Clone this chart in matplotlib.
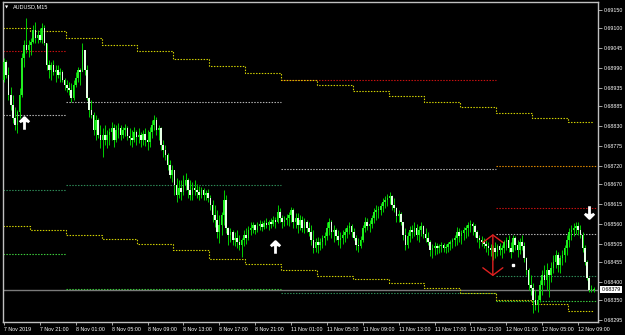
import matplotlib
matplotlib.use("Agg")
import matplotlib.pyplot as plt
import matplotlib.transforms as mtransforms
from matplotlib.path import Path
import numpy as np

plt.rcParams["font.family"] = ["Liberation Sans", "DejaVu Sans"]

# AUDUSD M15 bars, prices in points (1 point = 0.00001)
first_open = 68957
high_pts = [
    69018, 69012, 68993, 68938, 68916, 68883, 68874, 68935, 69032, 69067, 69128, 69067,
    69073, 69108, 69116, 69095, 69100, 69114, 69108, 69059, 69012, 69006, 69012, 68998,
    68998, 68990, 68985, 68962, 68957, 68951, 68949, 68957, 68979, 68993, 68990, 69059,
    69040, 68998, 68911, 68902, 68868, 68860, 68852, 68833, 68825, 68833, 68819, 68825,
    68841, 68836, 68833, 68839, 68833, 68828, 68836, 68830, 68825, 68819, 68828, 68819,
    68825, 68813, 68819, 68825, 68819, 68828, 68847, 68860, 68855, 68833, 68828, 68791,
    68777, 68756, 68736, 68722, 68695, 68687, 68681, 68681, 68695, 68701, 68687, 68681,
    68675, 68681, 68670, 68664, 68662, 68659, 68653, 68656, 68639, 68626, 68612, 68598,
    68584, 68592, 68653, 68639, 68552, 68549, 68543, 68537, 68543, 68529, 68521, 68543,
    68549, 68554, 68565, 68565, 68560, 68565, 68571, 68568, 68571, 68576, 68571, 68576,
    68581, 68579, 68612, 68604, 68584, 68581, 68587, 68592, 68607, 68604, 68590, 68590,
    68584, 68581, 68576, 68571, 68565, 68557, 68543, 68521, 68524, 68521, 68529, 68537,
    68565, 68576, 68571, 68557, 68549, 68543, 68537, 68543, 68549, 68557, 68565, 68560,
    68549, 68529, 68521, 68526, 68557, 68579, 68576, 68571, 68584, 68604, 68612, 68609,
    68618, 68631, 68636, 68642, 68647, 68639, 68631, 68607, 68598, 68592, 68563, 68549,
    68537, 68554, 68557, 68565, 68560, 68554, 68565, 68557, 68549, 68537, 68515, 68504,
    68509, 68507, 68504, 68509, 68507, 68504, 68509, 68515, 68521, 68529, 68552, 68549,
    68543, 68552, 68557, 68565, 68571, 68565, 68560, 68543, 68529, 68526, 68521, 68515,
    68509, 68504, 68501, 68509, 68504, 68507, 68501, 68515, 68524, 68529, 68509, 68529,
    68526, 68515, 68521, 68529, 68509, 68469, 68438, 68419, 68397, 68378, 68364, 68405,
    68433, 68446, 68452, 68433, 68454, 68474, 68488, 68482, 68474, 68488, 68501, 68529,
    68549, 68557, 68563, 68565, 68565, 68557, 68537, 68501, 68460, 68414, 68391, 68386,
]
low_pts = [
    68951, 68962, 68902, 68874, 68839, 68819, 68811, 68852, 68911, 68993, 69032, 69020,
    69026, 69059, 69059, 69059, 69061, 69059, 69053, 68985, 68962, 68957, 68971, 68951,
    68962, 68951, 68951, 68930, 68924, 68916, 68896, 68902, 68938, 68951, 68943, 68993,
    68971, 68902, 68855, 68852, 68805, 68791, 68797, 68769, 68745, 68777, 68769, 68777,
    68791, 68772, 68785, 68797, 68791, 68797, 68802, 68791, 68777, 68772, 68785, 68777,
    68783, 68772, 68777, 68774, 68764, 68772, 68797, 68819, 68805, 68791, 68764, 68745,
    68736, 68709, 68687, 68675, 68639, 68620, 68631, 68626, 68639, 68653, 68631, 68626,
    68626, 68639, 68631, 68626, 68631, 68626, 68626, 68620, 68598, 68565, 68552, 68521,
    68507, 68529, 68557, 68535, 68501, 68509, 68501, 68498, 68493, 68488, 68469, 68498,
    68504, 68515, 68529, 68535, 68532, 68537, 68543, 68540, 68546, 68549, 68543, 68549,
    68554, 68549, 68563, 68565, 68549, 68554, 68557, 68554, 68565, 68549, 68549, 68535,
    68543, 68537, 68535, 68537, 68526, 68501, 68480, 68482, 68480, 68488, 68493, 68501,
    68515, 68529, 68521, 68509, 68515, 68501, 68493, 68504, 68509, 68521, 68532, 68524,
    68515, 68488, 68482, 68493, 68509, 68537, 68543, 68537, 68549, 68563, 68571, 68576,
    68584, 68592, 68604, 68609, 68615, 68598, 68592, 68565, 68565, 68557, 68515, 68488,
    68493, 68509, 68521, 68526, 68515, 68509, 68526, 68521, 68509, 68501, 68471, 68466,
    68474, 68477, 68480, 68482, 68482, 68480, 68482, 68488, 68493, 68498, 68501, 68509,
    68504, 68515, 68521, 68526, 68537, 68529, 68524, 68509, 68493, 68498, 68493, 68482,
    68474, 68471, 68460, 68466, 68471, 68474, 68466, 68480, 68488, 68482, 68466, 68482,
    68488, 68469, 68477, 68488, 68454, 68419, 68378, 68364, 68314, 68322, 68316, 68344,
    68364, 68391, 68378, 68359, 68399, 68425, 68438, 68427, 68425, 68446, 68454, 68474,
    68496, 68515, 68526, 68532, 68529, 68521, 68482, 68446, 68405, 68372, 68372, 68372,
]
close_pts = [
    69006, 68971, 68916, 68888, 68852, 68833, 68868, 68916, 69018, 69053, 69040, 69053,
    69061, 69095, 69073, 69081, 69067, 69100, 69059, 68998, 68985, 68998, 68979, 68985,
    68971, 68979, 68957, 68943, 68935, 68930, 68908, 68943, 68962, 68985, 68979, 69040,
    68985, 68908, 68874, 68860, 68819, 68847, 68805, 68791, 68805, 68791, 68805, 68813,
    68825, 68791, 68819, 68825, 68805, 68819, 68825, 68802, 68797, 68791, 68813, 68800,
    68805, 68791, 68808, 68791, 68785, 68813, 68833, 68847, 68819, 68825, 68777, 68764,
    68750, 68722, 68695, 68709, 68667, 68639, 68659, 68647, 68667, 68681, 68653, 68639,
    68659, 68653, 68647, 68639, 68653, 68639, 68645, 68631, 68612, 68584, 68571, 68537,
    68557, 68584, 68626, 68549, 68529, 68537, 68515, 68521, 68509, 68501, 68515, 68529,
    68521, 68543, 68549, 68557, 68543, 68554, 68560, 68552, 68563, 68557, 68565, 68560,
    68571, 68565, 68592, 68576, 68565, 68571, 68576, 68584, 68598, 68565, 68576, 68557,
    68571, 68549, 68565, 68549, 68537, 68515, 68493, 68509, 68501, 68509, 68521, 68526,
    68549, 68565, 68537, 68543, 68526, 68515, 68521, 68529, 68537, 68549, 68554, 68537,
    68521, 68501, 68498, 68515, 68549, 68565, 68554, 68560, 68576, 68592, 68598, 68598,
    68609, 68620, 68626, 68631, 68636, 68612, 68604, 68581, 68587, 68565, 68529, 68501,
    68526, 68543, 68537, 68549, 68529, 68543, 68554, 68532, 68521, 68509, 68488, 68493,
    68498, 68493, 68498, 68501, 68493, 68496, 68504, 68509, 68515, 68521, 68537, 68526,
    68535, 68543, 68549, 68557, 68560, 68554, 68537, 68521, 68515, 68509, 68504, 68498,
    68493, 68488, 68493, 68482, 68498, 68488, 68493, 68509, 68515, 68493, 68482, 68521,
    68501, 68488, 68509, 68498, 68466, 68433, 68391, 68383, 68350, 68336, 68350, 68391,
    68419, 68405, 68433, 68419, 68438, 68454, 68474, 68446, 68466, 68474, 68493, 68515,
    68537, 68543, 68549, 68554, 68543, 68529, 68493, 68454, 68411, 68378, 68378, 68379,
]

# time axis: one label every 16 bars (4 hours)
time_labels = ["7 Nov 2019", "7 Nov 21:00", "8 Nov 01:00", "8 Nov 05:00", "8 Nov 09:00",
               "8 Nov 13:00", "8 Nov 17:00", "8 Nov 21:00", "11 Nov 01:00", "11 Nov 05:00",
               "11 Nov 09:00", "11 Nov 13:00", "11 Nov 17:00", "11 Nov 21:00",
               "12 Nov 01:00", "12 Nov 05:00", "12 Nov 09:00"]
price_ticks = [0.69150, 0.69100, 0.69045, 0.68990, 0.68935, 0.68885, 0.68830, 0.68775,
               0.68720, 0.68670, 0.68615, 0.68560, 0.68505, 0.68455, 0.68400, 0.68350,
               0.68295]
last_price = 0.68379

# daily levels (first bar of each day)
day_start = [0, 28, 124, 220]
day_end = [28, 124, 220, 265]
level_orange = [None, None, None, 68720]
level_red = [69037, None, 68957, 68604]
level_gray = [68860, 68896, 68711, 68532]
level_teal = [68653, 68667, 68369, 68416]
level_green = [68477, 68380, None, 68347]

# H4 stepped channel
h4_start = [0, 12, 28, 44, 60, 76, 92, 108, 124, 140, 156, 172, 188, 204, 220, 236, 252]
upper_line = [69100, 69092, 69073, 69053, 69037, 69015, 68996, 68976, 68957, 68943,
              68927, 68913, 68896, 68883, 68866, 68852, 68841]
lower_line = [68554, 68543, 68529, 68518, 68504, 68488, 68463, 68449, 68433, 68416,
              68408, 68397, 68383, 68369, 68350, 68339, 68319]

# signal arrows (bar, price)
buy_arrows = [(9, 0.68839), (121, 0.68496)]
sell_arrows = [(261, 0.68592)]
range_arrow = (218, 0.68532, 0.68416)
marker_dot = (227, 0.68446)


def to_price(pts):
    return np.array(pts, dtype=float) / 1e5


def arrow_marker(direction):
    """Open-chevron arrow drawn as line segments (MT4 style)."""
    s = 1 if direction == "up" else -1
    verts = [(0, -1 * s), (0, 0.95 * s), (-0.75, 0.2 * s), (0, 0.95 * s), (0.75, 0.2 * s)]
    codes = [Path.MOVETO, Path.LINETO, Path.MOVETO, Path.LINETO, Path.LINETO]
    return Path(verts, codes)


high = to_price(high_pts)
low = to_price(low_pts)
close = to_price(close_pts)
opn = np.concatenate([[first_open / 1e5], close[:-1]])
x = np.arange(len(close))

fig = plt.figure(figsize=(6.25, 3.35), dpi=100, facecolor="black")
ax = fig.add_axes([3 / 625, 13 / 335, 595 / 625, 320 / 335])
ax.set_facecolor("black")
ax.set_xlim(-0.45, 264.9)
ax.set_ylim(0.682895, 0.691722)

DOT = (0, (1.3, 1.3))

# current price line
ax.axhline(last_price, color="#7a7a7a", lw=1.0, zorder=1)

# daily levels
level_sets = [(level_orange, "#e08a00"), (level_red, "#c81010"), (level_gray, "#b4b4b4"),
              (level_teal, "#2e8b57"), (level_green, "#3ccc3c")]
for levels, col in level_sets:
    for s, e, v in zip(day_start, day_end, levels):
        if v is None:
            continue
        ax.plot([s - 0.5, e - 0.5], [v / 1e5, v / 1e5], color=col, lw=0.8, ls=DOT, zorder=2)

# stepped channel
xs = np.array(h4_start + [263]) - 0.5
for line in (upper_line, lower_line):
    ys = to_price(line + [line[-1]])
    ax.step(xs, ys, where="post", color="#d2d200", lw=0.8, ls=DOT, zorder=2)

# candles
up = close >= opn
body_lo = np.minimum(opn, close)
body_h = np.maximum(np.abs(close - opn), 0.000025)
ax.vlines(x, low, high, color="#00d000", lw=0.7, zorder=3)
ax.bar(x[up], body_h[up], bottom=body_lo[up], width=0.7, color="#22ee22", lw=0, zorder=4)
ax.bar(x[~up], body_h[~up], bottom=body_lo[~up], width=0.7, color="#e6ffe6", lw=0, zorder=4)

# arrows
for bx, by in buy_arrows:
    ax.plot([bx], [by], marker=arrow_marker("up"), ms=9, mew=2.0, color="white",
            ls="none", zorder=6)
for bx, by in sell_arrows:
    ax.plot([bx], [by], marker=arrow_marker("down"), ms=9, mew=2.0, color="white",
            ls="none", zorder=6)
ax.annotate("", xy=(range_arrow[0], range_arrow[1]), xytext=(range_arrow[0], range_arrow[2]),
            arrowprops=dict(arrowstyle="<->,head_length=0.45,head_width=0.6",
                            color="#e02020", lw=1.0, mutation_scale=12,
                            shrinkA=0, shrinkB=0), zorder=6)
ax.plot([marker_dot[0]], [marker_dot[1]], marker="s", ms=1.5, color="white", zorder=6)

# axes styling
for sp in ax.spines.values():
    sp.set_color("#c0c0c0")
    sp.set_linewidth(1.0)
ax.yaxis.tick_right()
ax.set_yticks(price_ticks)
ax.set_yticklabels([f"{v:.5f}" for v in price_ticks])
ax.set_xticks(np.arange(0, 16 * len(time_labels), 16))
ax.set_xticklabels(time_labels)
for lbl in ax.get_xticklabels():
    lbl.set_horizontalalignment("left")
ax.tick_params(axis="y", colors="#c0c0c0", labelcolor="white", labelsize=3.8,
               length=3, width=0.6, pad=1.5)
ax.tick_params(axis="x", colors="#c0c0c0", labelcolor="white", labelsize=3.8,
               length=2, width=0.6, pad=1.5)

# title and last price tag
ax.text(0.004, 0.984, "\u25bc", transform=ax.transAxes, color="white", fontsize=3,
        family="DejaVu Sans", ha="left", va="center")
ax.text(0.016, 0.984, "AUDUSD,M15", transform=ax.transAxes, color="white", fontsize=4,
        ha="left", va="center")
trans = mtransforms.blended_transform_factory(ax.transAxes, ax.transData)
ax.text(1.006, last_price, f"{last_price:.5f}", transform=trans, color="black", fontsize=3.8,
        ha="left", va="center", clip_on=False,
        bbox=dict(boxstyle="square,pad=0.25", fc="white", ec="none"))

fig.savefig("out.png", dpi=100, facecolor="black")
